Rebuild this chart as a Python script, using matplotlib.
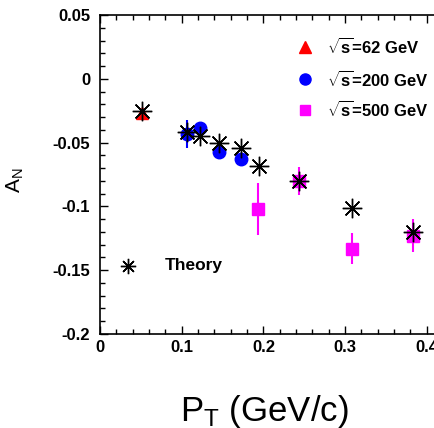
import matplotlib
matplotlib.use("Agg")
import matplotlib.pyplot as plt
from matplotlib.ticker import MultipleLocator, FixedLocator, FixedFormatter

plt.rcParams['font.family'] = ['Liberation Sans', 'DejaVu Sans']
plt.rcParams['mathtext.fontset'] = 'custom'
plt.rcParams['mathtext.rm'] = 'Liberation Sans'
plt.rcParams['mathtext.bf'] = 'Liberation Sans:bold'
plt.rcParams['mathtext.it'] = 'Liberation Sans:italic'

# Theory curve points
pt_theory = [0.051, 0.106, 0.1224, 0.146, 0.173, 0.1946, 0.2436, 0.309, 0.3827]
an_theory = [-0.025, -0.0414, -0.0445, -0.050, -0.0544, -0.0682, -0.0804, -0.1016, -0.1203]

# sqrt(s) = 62 GeV
pt_62 = [0.051]
an_62 = [-0.0266]
err_62 = [0.002]

# sqrt(s) = 200 GeV
pt_200 = [0.107, 0.1224, 0.146, 0.173]
an_200 = [-0.0435, -0.0383, -0.057, -0.063]
err_200 = [0.011, 0.003, 0.005, 0.005]

# sqrt(s) = 500 GeV
pt_500 = [0.1937, 0.2436, 0.309, 0.3827]
an_500 = [-0.1018, -0.080, -0.133, -0.123]
err_500 = [0.0203, 0.011, 0.012, 0.013]

xticks = [0, 0.1, 0.2, 0.3, 0.4]
xticklabels = ['0', '0.1', '0.2', '0.3', '0.4']
yticks = [-0.2, -0.15, -0.1, -0.05, 0, 0.05]
yticklabels = ['-0.2', '-0.15', '-0.1', '-0.05', '0', '0.05']

W, H = 434, 428
fig = plt.figure(figsize=(W / 100, H / 100), dpi=100)
x0, x1, ytop, ybot = 100, 100 + 0.42 * 817, 15, 334
ax = fig.add_axes([x0 / W, (H - ybot) / H, (x1 - x0) / W, (ybot - ytop) / H])
ax.set_xlim(0, 0.42)
ax.set_ylim(-0.2, 0.05)

star = (8, 2, 0)

# Data
ax.errorbar(pt_62, an_62, yerr=err_62, fmt='^', color='red', ms=9, elinewidth=1.5,
            capsize=0, zorder=3)
ax.errorbar(pt_200, an_200, yerr=err_200, fmt='o', color='blue', ms=9, elinewidth=1.5,
            capsize=0, zorder=3)
ax.errorbar(pt_500, an_500, yerr=err_500, fmt='s', color='magenta', ms=8, elinewidth=1.5,
            capsize=0, zorder=3)

# Theory
ax.plot(pt_theory, an_theory, linestyle='none', marker=star, ms=14, mew=1.0,
        color='black', zorder=4)
ax.plot(pt_theory, an_theory, linestyle='none', marker='o', ms=2.5, color='black', zorder=5)

# Legend entries
leg_x_mark, leg_x_text = 0.598, 0.662
rows = [(0.901, '^', 'red', 8, r'$\sqrt{\mathbf{s}}$=62 GeV'),
        (0.798, 'o', 'blue', 8, r'$\sqrt{\mathbf{s}}$=200 GeV'),
        (0.702, 's', 'magenta', 7.5, r'$\sqrt{\mathbf{s}}$=500 GeV')]
for fy, m, c, s, lab in rows:
    ax.plot([leg_x_mark], [fy], marker=m, color=c, ms=s, linestyle='none',
            transform=ax.transAxes, clip_on=False)
    ax.text(leg_x_text, fy, lab, transform=ax.transAxes, fontsize=12,
            fontweight='bold', va='center', ha='left')

ax.plot([0.0825], [0.214], marker=star, ms=11, mew=1.0, color='black',
        linestyle='none', transform=ax.transAxes)
ax.text(0.19, 0.214, 'Theory', transform=ax.transAxes, fontsize=12.5,
        fontweight='bold', va='center', ha='left')

# Axes styling
ax.xaxis.set_major_locator(FixedLocator(xticks))
ax.xaxis.set_major_formatter(FixedFormatter(xticklabels))
ax.yaxis.set_major_locator(FixedLocator(yticks))
ax.yaxis.set_major_formatter(FixedFormatter(yticklabels))
ax.xaxis.set_minor_locator(MultipleLocator(0.02))
ax.yaxis.set_minor_locator(MultipleLocator(0.01))
ax.tick_params(which='both', direction='in', top=True, right=True, width=1.0)
ax.tick_params(which='major', length=6)
ax.tick_params(which='minor', length=3.5)
ax.tick_params(axis='y', which='major', pad=7)
ax.tick_params(axis='x', which='major', pad=4)
for lab in ax.get_xticklabels() + ax.get_yticklabels():
    lab.set_fontweight('bold')
    lab.set_fontsize(12)
for sp in ax.spines.values():
    sp.set_linewidth(1.2)

fig.text(15 / W, 1 - 180 / H, r'A$_\mathrm{N}$', rotation=90, fontsize=15,
         ha='center', va='center')
fig.text(264 / W, 1 - 411 / H, r'P$_\mathrm{T}$ (GeV/c)', fontsize=25,
         ha='center', va='center')

fig.savefig('out.png', dpi=100)
